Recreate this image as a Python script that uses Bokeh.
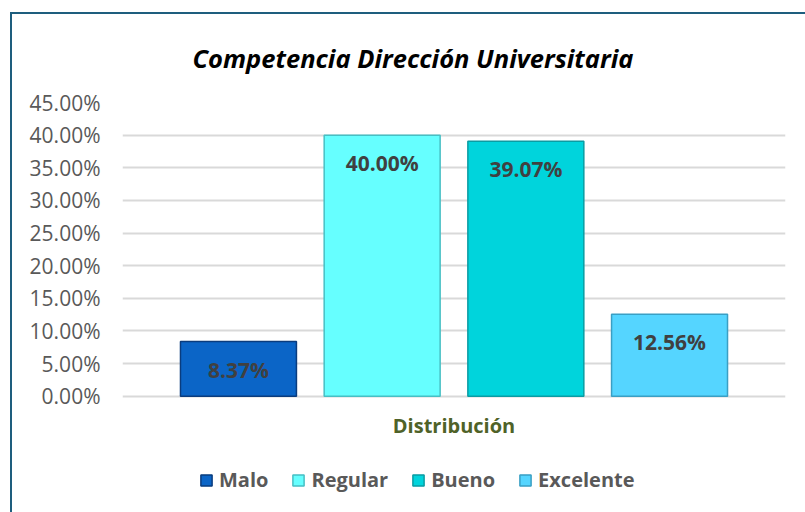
from bokeh.plotting import figure
from bokeh.layouts import column
from bokeh.models import Range1d, FixedTicker, Legend, LegendItem, ColumnDataSource
from bokeh.core.properties import value
from bokeh.embed import file_html
from bokeh.resources import INLINE

# ---- data ----
categories = ["Malo", "Regular", "Bueno", "Excelente"]
percentages = [8.37, 40.00, 39.07, 12.56]
value_labels = ["8.37%", "40.00%", "39.07%", "12.56%"]
y_ticks = [0, 5, 10, 15, 20, 25, 30, 35, 40, 45]
y_tick_labels = ["0.00%", "5.00%", "10.00%", "15.00%", "20.00%", "25.00%",
                 "30.00%", "35.00%", "40.00%", "45.00%"]
x_axis_title = "Distribución"
chart_title = "Competencia Dirección Universitaria"

fills = ["#0B65C7", "#66FFFF", "#00D4DC", "#55D5FF"]
edges = ["#0A3C7E", "#47BFC4", "#0A9CA3", "#3A9FC4"]

FONT = "Open Sans"

# the frame extends below zero to leave room for the axis title and legend
p = figure(width=793, height=498, output_backend="svg", toolbar_location=None,
           x_range=Range1d(0.193, 4.807), y_range=Range1d(-17.83, 45),
           min_border_left=110, min_border_right=20, min_border_top=87,
           min_border_bottom=0)

p.title.text = chart_title
p.title.align = "left"
p.title.offset = 70
p.title.vertical_align = "top"
p.title.text_font = FONT
p.title.text_font_size = "25.5px"
p.title.text_font_style = "bold italic"
p.title.text_color = "#000000"
p.title.standoff = 52

p.outline_line_color = None
p.background_fill_color = "white"
p.border_fill_color = "white"

# y axis
p.yaxis.ticker = FixedTicker(ticks=y_ticks)
p.yaxis.major_label_overrides = {t: l for t, l in zip(y_ticks, y_tick_labels)}
p.yaxis.axis_line_color = None
p.yaxis.major_tick_line_color = None
p.yaxis.minor_tick_line_color = None
p.yaxis.major_label_text_font = FONT
p.yaxis.major_label_text_font_size = "21px"
p.yaxis.major_label_text_color = "#595959"
p.yaxis.major_label_standoff = 16

# x axis (sits at y = 0 inside the frame)
p.xaxis.fixed_location = 0
p.xaxis.ticker = FixedTicker(ticks=[])
p.xaxis.axis_line_color = None
p.xaxis.major_tick_line_color = None
p.xaxis.minor_tick_line_color = None
p.xaxis.axis_label = x_axis_title
p.xaxis.axis_label_text_font = FONT
p.xaxis.axis_label_text_font_size = "20px"
p.xaxis.axis_label_text_font_style = "bold"
p.xaxis.axis_label_text_color = "#4F6228"
p.xaxis.axis_label_standoff = 15

p.xgrid.grid_line_color = None
p.ygrid.grid_line_color = "#D9D9D9"
p.ygrid.grid_line_width = 2

xs = list(range(1, len(categories) + 1))
items = []
for i, (cat, v) in enumerate(zip(categories, percentages)):
    src = ColumnDataSource(dict(x=[xs[i]], top=[v], lab=[value_labels[i]]))
    r = p.vbar(x="x", top="top", bottom=0, width=0.807, source=src,
               fill_color=fills[i], line_color=edges[i], line_width=1.5)
    items.append(LegendItem(label=cat, renderers=[r]))
    p.text(x="x", y="top", text="lab", source=src, y_offset=28,
           text_align="center", text_baseline="middle",
           text_font=value(FONT), text_font_size="21px", text_font_style="bold",
           text_color="#404040")

legend = Legend(items=items, orientation="horizontal", location=(77, 19))
legend.border_line_color = None
legend.background_fill_alpha = 0
legend.padding = 0
legend.margin = 0
legend.spacing = 23
legend.glyph_width = 14
legend.glyph_height = 14
legend.label_standoff = 6
legend.label_text_font = FONT
legend.label_text_font_size = "20px"
legend.label_text_font_style = "bold"
legend.label_text_color = "#595959"
p.add_layout(legend, "center")

page = column(p, styles={"margin-left": "10px", "margin-top": "12px",
                         "border-left": "2px solid #1E5E7E",
                         "border-top": "2px solid #1E5E7E"})

open("out.html", "w").write(file_html(page, INLINE))
